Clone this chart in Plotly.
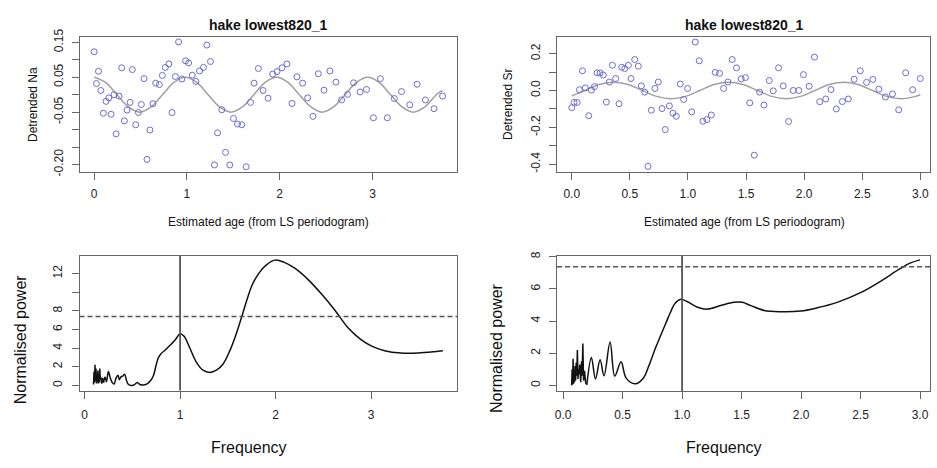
import plotly.graph_objects as go

# ---------------- DATA ----------------
# Top-left: detrended Na vs estimated age
na_age = [0.000, 0.025, 0.047, 0.072, 0.100, 0.129, 0.158, 0.183, 0.215, 0.237, 0.269, 0.297,
          0.326, 0.355, 0.387, 0.412, 0.448, 0.477, 0.509, 0.538, 0.570, 0.602, 0.634, 0.663,
          0.703, 0.735, 0.767, 0.806, 0.839, 0.875, 0.910, 0.946, 0.986, 1.018, 1.057, 1.097,
          1.136, 1.179, 1.215, 1.254, 1.297, 1.330, 1.376, 1.416, 1.462, 1.502, 1.545, 1.591,
          1.638, 1.685, 1.724, 1.770, 1.821, 1.875, 1.925, 1.971, 2.025, 2.078, 2.132, 2.186,
          2.247, 2.301, 2.358, 2.416, 2.477, 2.541, 2.606, 2.667, 2.731, 2.796, 2.867, 2.935,
          3.010, 3.085, 3.160, 3.235, 3.313, 3.402, 3.481, 3.570, 3.663, 3.755]
na_val = [0.123, 0.032, 0.067, 0.012, -0.053, -0.019, -0.009, -0.056, 0.000, -0.112, -0.004, 0.077,
          -0.075, -0.044, -0.022, 0.072, -0.086, -0.051, -0.028, 0.046, -0.185, -0.101, -0.026, 0.033,
          0.029, 0.055, 0.078, 0.088, -0.051, 0.052, 0.151, 0.045, 0.097, 0.091, 0.056, 0.038,
          0.068, 0.078, 0.142, 0.095, -0.201, -0.109, -0.043, -0.165, -0.201, -0.068, -0.084, -0.086,
          -0.206, -0.022, 0.033, 0.075, 0.012, -0.010, 0.059, 0.066, 0.077, 0.088, -0.025, 0.051,
          0.033, -0.009, -0.062, 0.060, 0.013, 0.068, 0.036, -0.015, 0.001, 0.034, 0.008, 0.015,
          -0.066, 0.046, -0.066, -0.011, 0.009, -0.029, 0.030, -0.015, -0.040, -0.004]
na_fit_age = [0.000, 0.123, 0.246, 0.369, 0.492, 0.614, 0.737, 0.860, 0.983, 1.106, 1.229, 1.352,
              1.475, 1.598, 1.721, 1.843, 1.966, 2.089, 2.212, 2.335, 2.458, 2.581, 2.704, 2.827,
              2.949, 3.072, 3.195, 3.318, 3.441, 3.564, 3.687, 3.755]
na_fit_val = [0.050, 0.035, 0.000, -0.035, -0.050, -0.035, 0.000, 0.035, 0.050, 0.035, 0.000, -0.035,
              -0.050, -0.035, 0.000, 0.035, 0.050, 0.035, 0.000, -0.035, -0.050, -0.035, 0.000, 0.035,
              0.050, 0.035, 0.000, -0.035, -0.050, -0.035, 0.000, 0.012]

# Top-right: detrended Sr vs estimated age
sr_age = [0.000, 0.020, 0.046, 0.066, 0.092, 0.117, 0.146, 0.169, 0.195, 0.218, 0.244, 0.272,
          0.298, 0.324, 0.350, 0.378, 0.407, 0.430, 0.456, 0.487, 0.510, 0.542, 0.573, 0.599,
          0.628, 0.656, 0.685, 0.716, 0.745, 0.777, 0.805, 0.840, 0.871, 0.900, 0.934, 0.963,
          0.997, 1.032, 1.063, 1.097, 1.129, 1.163, 1.201, 1.235, 1.272, 1.307, 1.344, 1.381,
          1.418, 1.458, 1.495, 1.532, 1.571, 1.617, 1.654, 1.700, 1.734, 1.780, 1.820, 1.866,
          1.906, 1.954, 1.994, 2.043, 2.089, 2.134, 2.186, 2.231, 2.277, 2.329, 2.380, 2.431,
          2.483, 2.537, 2.591, 2.643, 2.700, 2.760, 2.814, 2.874, 2.934, 3.000]
sr_val = [-0.093, -0.065, -0.065, 0.004, 0.107, 0.014, -0.137, 0.002, 0.021, 0.096, 0.095, 0.084,
          -0.063, 0.046, 0.137, 0.065, -0.072, 0.126, 0.119, 0.137, 0.065, 0.168, 0.132, 0.025,
          -0.009, -0.412, -0.107, 0.011, 0.046, -0.098, -0.212, -0.084, -0.123, -0.140, 0.035, -0.049,
          0.011, -0.116, 0.263, 0.161, -0.167, -0.158, -0.133, 0.098, 0.093, 0.011, 0.046, 0.168,
          0.123, 0.063, 0.070, -0.067, -0.351, -0.009, -0.079, 0.054, -0.002, 0.123, 0.025, -0.168,
          0.000, 0.000, 0.086, 0.023, 0.181, -0.061, -0.046, 0.005, -0.100, -0.060, -0.046, 0.061,
          0.107, 0.044, 0.060, 0.007, -0.035, -0.019, -0.105, 0.096, 0.004, 0.065]
sr_fit_age = [0.000, 0.1125, 0.236, 0.360, 0.484, 0.6075, 0.731, 0.855, 0.979, 1.1025, 1.226, 1.350,
              1.474, 1.5975, 1.721, 1.845, 1.969, 2.0925, 2.216, 2.340, 2.464, 2.5875, 2.711, 2.835,
              2.959, 3.000]
sr_fit_val = [-0.029, 0.000, 0.032, 0.045, 0.032, 0.000, -0.032, -0.045, -0.032, 0.000, 0.032, 0.045,
              0.032, 0.000, -0.032, -0.045, -0.032, 0.000, 0.032, 0.045, 0.032, 0.000, -0.032, -0.045,
              -0.032, -0.023]

# Bottom-left: LS periodogram of Na (dense low-frequency part, then smooth part)
na_freq_low = [0.094, 0.100, 0.105, 0.110, 0.115, 0.120, 0.125, 0.130, 0.135, 0.140, 0.145, 0.150,
               0.155, 0.160, 0.165, 0.170, 0.180, 0.190, 0.200]
na_pow_low = [0.1, 1.5, 0.3, 2.2, 0.5, 1.8, 0.2, 1.2, 0.4, 1.6, 0.2, 1.0,
              0.3, 1.8, 0.6, 0.9, 0.2, 0.8, 0.3]
na_freq = [0.200, 0.215, 0.230, 0.250, 0.270, 0.290, 0.310, 0.330, 0.350, 0.365, 0.380, 0.400,
           0.420, 0.440, 0.460, 0.490, 0.520, 0.550, 0.580, 0.620, 0.660, 0.690, 0.720, 0.745,
           0.770, 0.800, 0.840, 0.890, 0.950, 1.000, 1.040, 1.100, 1.170, 1.240, 1.310, 1.380,
           1.450, 1.520, 1.580, 1.640, 1.700, 1.760, 1.830, 1.900, 1.990, 2.090, 2.200, 2.340,
           2.480, 2.620, 2.760, 2.890, 3.000, 3.140, 3.310, 3.490, 3.660, 3.750]
na_pow = [0.3, 0.9, 0.4, 1.5, 0.8, 0.3, 0.15, 0.8, 1.1, 0.6, 0.9, 1.0,
          1.2, 0.5, 0.1, 0.0, 0.05, 0.3, 0.1, 0.05, 0.2, 0.5, 1.0, 2.0,
          2.9, 3.4, 3.75, 4.25, 4.9, 5.55, 5.3, 4.06, 2.5, 1.63, 1.39, 1.63,
          2.3, 3.7, 5.3, 7.2, 9.2, 10.9, 12.1, 12.9, 13.44, 13.2, 12.57, 11.35,
          9.8, 8.06, 6.15, 4.93, 4.24, 3.72, 3.47, 3.47, 3.61, 3.72]

# Bottom-right: LS periodogram of Sr (dense low-frequency part, then smooth part)
sr_freq_low = [0.072, 0.076, 0.080, 0.084, 0.088, 0.092, 0.096, 0.100, 0.105, 0.110, 0.115, 0.120,
               0.125, 0.130, 0.135, 0.140, 0.148, 0.155, 0.160, 0.166, 0.172, 0.180, 0.190, 0.200]
sr_pow_low = [0.0, 1.0, 0.05, 1.65, 0.1, 0.9, 0.2, 1.2, 0.3, 1.4, 0.6, 2.2,
              0.4, 1.0, 0.7, 1.3, 0.2, 1.5, 0.6, 2.6, 0.3, 0.9, 0.15, 0.05]
sr_freq = [0.200, 0.238, 0.272, 0.311, 0.344, 0.395, 0.434, 0.487, 0.530, 0.607, 0.677, 0.720,
           0.775, 0.820, 0.860, 0.900, 0.942, 0.990, 1.046, 1.130, 1.214, 1.325, 1.437, 1.507,
           1.577, 1.689, 1.829, 1.997, 2.136, 2.304, 2.500, 2.668, 2.836, 2.920, 3.000]
sr_pow = [0.05, 1.73, 0.4, 1.59, 0.6, 2.7, 0.58, 1.47, 0.45, 0.1, 0.48, 1.2,
          2.29, 3.1, 3.8, 4.5, 5.1, 5.35, 5.2, 4.86, 4.74, 4.96, 5.16, 5.16,
          4.96, 4.66, 4.58, 4.62, 4.82, 5.16, 5.76, 6.47, 7.27, 7.61, 7.8]

sig_level = 7.38      # dashed significance line
peak_freq = 1.0       # vertical reference line

title_text = "hake lowest820_1"
xlab_top = "Estimated age (from LS periodogram)"
ylab_na = "Detrended Na"
ylab_sr = "Detrended Sr"
xlab_bot = "Frequency"
ylab_bot = "Normalised power"

na_yticks = [-0.20, -0.15, -0.10, -0.05, 0.00, 0.05, 0.10, 0.15]
na_yticktext = ["-0.20", "", "", "-0.05", "", "0.05", "", "0.15"]
sr_yticks = [-0.4, -0.3, -0.2, -0.1, 0.0, 0.1, 0.2]
sr_yticktext = ["-0.4", "", "-0.2", "", "0.0", "", "0.2"]
int_xticks = [0, 1, 2, 3]
int_xticktext = ["0", "1", "2", "3"]
half_xticks = [0.0, 0.5, 1.0, 1.5, 2.0, 2.5, 3.0]
half_xticktext = ["0.0", "0.5", "1.0", "1.5", "2.0", "2.5", "3.0"]
pna_yticks = [0, 2, 4, 6, 8, 10, 12]
pna_yticktext = ["0", "2", "4", "6", "8", "", "12"]
psr_yticks = [0, 2, 4, 6, 8]
psr_yticktext = ["0", "2", "4", "6", "8"]

# ---------------- FIGURE ----------------
W, H = 937, 468
FONT = "Liberation Sans, Arial, Helvetica, sans-serif"

def fx(p):
    return p / W

def fy(p):
    return 1 - p / H

pt_color = "#6c6cd4"
fit_color = "#a0a0a0"
ref_color = "#555555"

fig = go.Figure()

fig.add_trace(go.Scatter(x=na_fit_age, y=na_fit_val, mode="lines", line=dict(color=fit_color, width=1.5, shape="spline"),
                         xaxis="x", yaxis="y", showlegend=False, hoverinfo="skip"))
fig.add_trace(go.Scatter(x=na_age, y=na_val, mode="markers",
                         marker=dict(symbol="circle-open", size=6, color=pt_color, line=dict(width=1)),
                         xaxis="x", yaxis="y", showlegend=False))

fig.add_trace(go.Scatter(x=sr_fit_age, y=sr_fit_val, mode="lines", line=dict(color=fit_color, width=1.5, shape="spline"),
                         xaxis="x2", yaxis="y2", showlegend=False, hoverinfo="skip"))
fig.add_trace(go.Scatter(x=sr_age, y=sr_val, mode="markers",
                         marker=dict(symbol="circle-open", size=6, color=pt_color, line=dict(width=1)),
                         xaxis="x2", yaxis="y2", showlegend=False))

for xs, ys, xa, ya, shape in [
    (na_freq_low, na_pow_low, "x3", "y3", "linear"),
    (na_freq, na_pow, "x3", "y3", "spline"),
    (sr_freq_low, sr_pow_low, "x4", "y4", "linear"),
    (sr_freq, sr_pow, "x4", "y4", "spline"),
]:
    fig.add_trace(go.Scatter(x=xs, y=ys, mode="lines", line=dict(color="#111111", width=1.5, shape=shape),
                             xaxis=xa, yaxis=ya, showlegend=False))

axis_common = dict(showline=True, mirror=True, linecolor="#666666", linewidth=1,
                   ticks="outside", ticklen=7, tickcolor="#666666", tickwidth=1,
                   showgrid=False, zeroline=False, fixedrange=True,
                   tickfont=dict(family=FONT, size=12, color="#222222"), tickmode="array")

# panel boxes (pixels)
boxes = {
    1: (78, 456, 29, 167.7),
    2: (556.3, 930.3, 29, 167.7),
    3: (77.7, 456, 254.7, 393.3),
    4: (556.3, 930.3, 254.7, 394),
}

def xdom(i):
    b = boxes[i]
    return [fx(b[0]), fx(b[1])]

def ydom(i):
    b = boxes[i]
    return [fy(b[3]), fy(b[2])]

fig.update_layout(
    width=W, height=H, margin=dict(l=0, r=0, t=0, b=0),
    paper_bgcolor="white", plot_bgcolor="white",
    xaxis=dict(axis_common, domain=xdom(1), anchor="y", range=[-0.154, 3.911],
               tickvals=int_xticks, ticktext=int_xticktext, ticklabelstandoff=4),
    yaxis=dict(axis_common, domain=ydom(1), anchor="x", range=[-0.2202, 0.1647],
               tickvals=na_yticks, ticktext=na_yticktext, tickangle=-90, ticklabelstandoff=4),
    xaxis2=dict(axis_common, domain=xdom(2), anchor="y2", range=[-0.126, 3.086],
                tickvals=half_xticks, ticktext=half_xticktext, ticklabelstandoff=4),
    yaxis2=dict(axis_common, domain=ydom(2), anchor="x2", range=[-0.4405, 0.2895],
                tickvals=sr_yticks, ticktext=sr_yticktext, tickangle=-90, ticklabelstandoff=4),
    xaxis3=dict(axis_common, domain=xdom(3), anchor="y3", range=[-0.052, 3.898],
                tickvals=int_xticks, ticktext=int_xticktext, ticklabelstandoff=6),
    yaxis3=dict(axis_common, domain=ydom(3), anchor="x3", range=[-0.552, 13.873],
                tickvals=pna_yticks, ticktext=pna_yticktext, tickangle=-90, ticklabelstandoff=5),
    xaxis4=dict(axis_common, domain=xdom(4), anchor="y4", range=[-0.0503, 3.0865],
                tickvals=half_xticks, ticktext=half_xticktext, ticklabelstandoff=5),
    yaxis4=dict(axis_common, domain=ydom(4), anchor="x4", range=[-0.362, 8.036],
                tickvals=psr_yticks, ticktext=psr_yticktext, tickangle=-90, ticklabelstandoff=4),
)

# reference lines
for xa, ya in [("x3", "y3"), ("x4", "y4")]:
    fig.add_shape(type="line", xref=f"{xa} domain", yref=ya, x0=0, x1=1, y0=sig_level, y1=sig_level,
                  line=dict(color=ref_color, width=1.5, dash="5px,3px"))
    fig.add_shape(type="line", xref=xa, yref=f"{ya} domain", x0=peak_freq, x1=peak_freq, y0=0, y1=1,
                  line=dict(color=ref_color, width=1.8))

def ann(text, x, y, size, angle=0, bold=False):
    fig.add_annotation(text=f"<b>{text}</b>" if bold else text, xref="paper", yref="paper",
                       x=fx(x), y=fy(y), xanchor="center", yanchor="middle", showarrow=False,
                       textangle=angle, font=dict(family=FONT, size=size, color="#111111"))

ann(title_text, 267, 16, 14, bold=True)
ann(title_text, 744, 16, 14, bold=True)
ann(xlab_top, 267, 219.5, 12)
ann(xlab_top, 744, 219.5, 12)
ann(ylab_na, 31, 98, 12, angle=-90)
ann(ylab_sr, 507, 98, 12, angle=-90)
ann(xlab_bot, 248, 452, 16)
ann(xlab_bot, 724, 452, 16)
ann(ylab_bot, 18.5, 340, 16, angle=-90)
ann(ylab_bot, 495.5, 349, 16, angle=-90)

fig.write_html("out.html")
